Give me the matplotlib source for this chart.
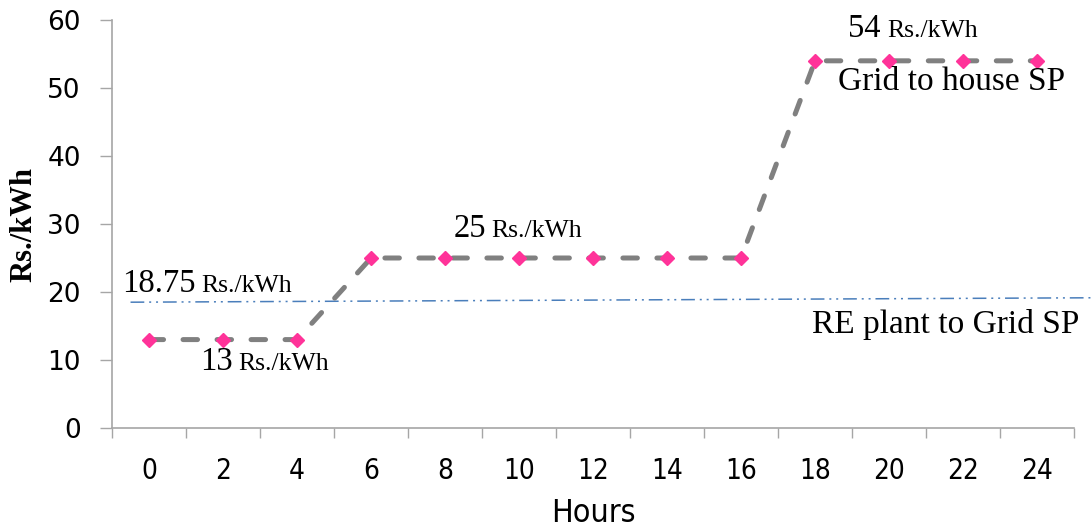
import matplotlib

matplotlib.use("Agg")
import matplotlib.pyplot as plt

# Hourly tariff (category axis, one point per 2 h)
hours = [0, 2, 4, 6, 8, 10, 12, 14, 16, 18, 20, 22, 24]
grid_to_house = [13, 13, 13, 25, 25, 25, 25, 25, 25, 54, 54, 54, 54]
# RE plant -> grid tariff line, value at its left and right ends
re_to_grid = [18.5, 19.15]

yticks = [0, 10, 20, 30, 40, 50, 60]

# (number, anchor category index, anchor value) for the price notes
price_labels = [("18.75", -0.37, 20.0), ("13", 0.69, 8.5),
                ("25", 4.11, 28.1), ("54", 9.45, 57.5)]
series_labels = [("Grid to house SP", 9.31, 49.7),
                 ("RE plant to Grid SP", 8.96, 14.0)]

AXIS = "#a6a6a6"
SERIF = "Liberation Serif"


def main():
    fig = plt.figure(figsize=(10.92, 5.31), dpi=100)
    ax = fig.add_axes([0.1026, 0.194, 0.881, 0.7683])
    x = list(range(len(hours)))

    ax.plot(x, grid_to_house, color="#808080", lw=3.6, dashes=(2.9, 3.9),
            dash_capstyle="round", zorder=2)
    ax.plot(x, grid_to_house, ls="none", marker="D", ms=6.8,
            color="#ff3399", zorder=3)

    ax.set_xlim(-0.5, len(hours) - 0.5)
    ax.set_ylim(0, 60)
    x0, x1 = ax.get_xlim()
    ax.plot([x0 + 0.25, x1 + 0.25], re_to_grid, color="#4a7ebb", lw=1.1,
            dashes=(9, 3.2, 1.3, 3.2, 1.3, 3.2), clip_on=False, zorder=1)

    renderer = fig.canvas.get_renderer()
    for num, xi, yv in price_labels:
        t = ax.text(xi, yv, num, fontsize=23.5, family=SERIF, va="baseline")
        right = t.get_window_extent(renderer).x1 + 6
        xu = ax.transData.inverted().transform((right, 0))[0]
        ax.text(xu, yv, "Rs./kWh", fontsize=18.5, family=SERIF, va="baseline")
    for txt, xi, yv in series_labels:
        ax.text(xi, yv, txt, fontsize=24, family=SERIF, va="baseline")

    ax.set_xticks(x)
    ax.set_xticklabels([str(h) for h in hours], fontstretch="condensed")
    ax.set_xticks([i - 0.5 for i in range(len(hours) + 1)], minor=True)
    ax.tick_params(axis="x", which="major", length=0, pad=21, labelsize=20)
    ax.tick_params(axis="x", which="minor", length=7.5, width=1, color=AXIS)
    ax.set_yticks(yticks)
    ax.tick_params(axis="y", length=8.5, width=1, color=AXIS, pad=14,
                   labelsize=19)

    for side in ("top", "right"):
        ax.spines[side].set_visible(False)
    for side in ("left", "bottom"):
        ax.spines[side].set_color(AXIS)
        ax.spines[side].set_linewidth(1.2)

    ax.set_xlabel("Hours", fontsize=23, fontstretch="condensed", labelpad=9)
    ax.set_ylabel("Rs./kWh", fontsize=22, family=SERIF, fontweight="bold")
    ax.yaxis.set_label_coords(-0.077, 0.5)

    fig.savefig("out.png", dpi=100)


if __name__ == "__main__":
    main()
